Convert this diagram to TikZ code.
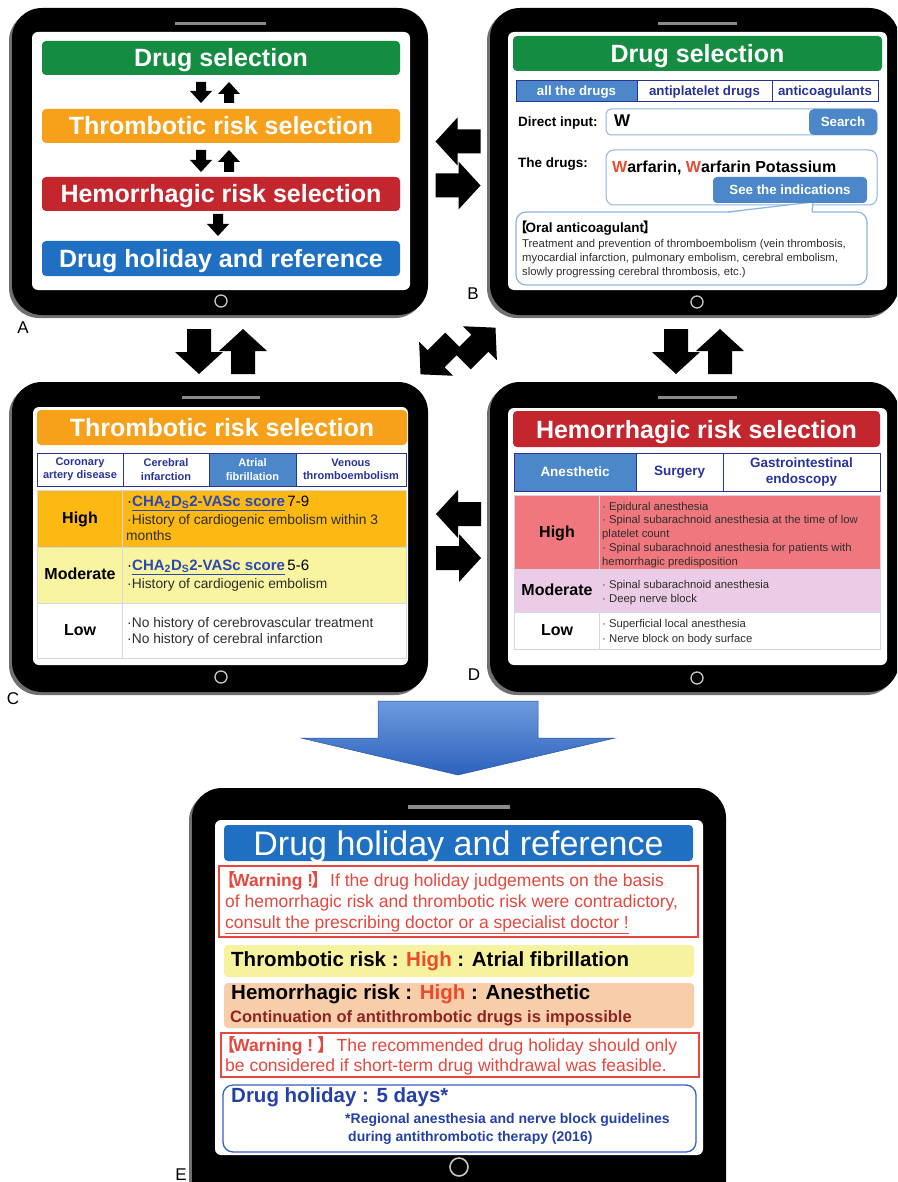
\documentclass[tikz,border=0pt]{standalone}
\usepackage{fontspec}
\setmainfont{Liberation Sans}
\newfontfamily\cjk{Noto Sans CJK JP}
\definecolor{dsgreen}{HTML}{148C41}
\definecolor{trorange}{HTML}{F7A11A}
\definecolor{hmred}{HTML}{C4262E}
\definecolor{dhblue}{HTML}{1F70C2}
\definecolor{tabblue}{HTML}{4C87CA}
\definecolor{navy}{HTML}{28349A}
\definecolor{lightbd}{HTML}{8FB4DE}
\definecolor{chigh}{HTML}{FDB913}
\definecolor{cmod}{HTML}{F8F4A0}
\definecolor{dhigh}{HTML}{EF777D}
\definecolor{dmod}{HTML}{EBCBE5}
\definecolor{warnred}{HTML}{E5483E}
\definecolor{darkred}{HTML}{8E2424}
\definecolor{ethr}{HTML}{F6F29D}
\definecolor{ehem}{HTML}{F7CEA9}
\definecolor{hired}{HTML}{EC4A2C}
\definecolor{scorebl}{HTML}{2A49B5}
\definecolor{txtgray}{HTML}{2E2E2E}
\definecolor{rim}{HTML}{707070}
\definecolor{spk}{HTML}{8A8A8A}
\definecolor{homec}{HTML}{C8C8C8}
\definecolor{rowline}{HTML}{D4D8E6}
\definecolor{edblue}{HTML}{3560C4}
\definecolor{ednavy}{HTML}{2441A6}
\definecolor{arrtop}{HTML}{6E9BDD}
\definecolor{arrbot}{HTML}{2C62BE}

\newcommand\fs[1]{\fontsize{#1}{#1}\selectfont}
\newcommand\lbr{\kern-.45em{\cjk 【}\kern-.15em}
\newcommand\rbr{\kern-.1em{\cjk 】}\kern-.3em}
\newcommand\bl{·}

\newcommand\tabletbody[8]{%
  \fill[rim,rounded corners=30pt] ({#1-3},{#2+3}) rectangle ({#3-3},{#4+3});
  \fill[black,rounded corners=30pt] (#1,#2) rectangle (#3,#4);
  \fill[white,rounded corners=6pt] (#5,#6) rectangle (#7,#8);
}
% cx, ytop, ytip, shaft half width, head half width, head length
\newcommand\downarr[6]{%
  \fill ({#1-#4},{#2}) -- ({#1+#4},{#2}) -- ({#1+#4},{#3-#6}) -- ({#1+#5},{#3-#6})
    -- (#1,#3) -- ({#1-#5},{#3-#6}) -- ({#1-#4},{#3-#6}) -- cycle;}
\newcommand\uparr[6]{%
  \fill ({#1-#4},{#2}) -- ({#1+#4},{#2}) -- ({#1+#4},{#3+#6}) -- ({#1+#5},{#3+#6})
    -- (#1,#3) -- ({#1-#5},{#3+#6}) -- ({#1-#4},{#3+#6}) -- cycle;}
\newcommand\bigpair{%
  \downarr{-22}{-22}{23}{12}{24}{22}
  \uparr{22}{23}{-22}{12}{24}{22}}

\tikzset{
  bar/.style={rectangle, rounded corners=4pt, inner sep=0pt, text=white, font=\fs{25}\bfseries, text height=18pt, text depth=0pt},
  btab/.style={rectangle, draw=navy, line width=0.8pt, minimum height=21pt, inner sep=0pt, font=\fs{13.3}\bfseries, text=navy, text height=9.6pt, text depth=0pt},
  ctab/.style={rectangle, draw=navy, line width=0.8pt, minimum height=33pt, inner sep=0pt, align=center, font=\fontsize{11}{13.5}\selectfont\bfseries, text=navy},
  dtab/.style={rectangle, draw=navy, line width=0.8pt, minimum height=38pt, inner sep=0pt, align=center, font=\fontsize{13.5}{16}\selectfont\bfseries, text=navy},
  rowbox/.style={rectangle, draw=rowline, line width=0.6pt, inner sep=0pt},
  txt/.style={inner sep=0pt, anchor=mid west, yshift=-1.8pt},
  lvl/.style={inner sep=0pt, anchor=mid, font=\fs{16}\bfseries, yshift=-1.8pt},
  lbl/.style={inner sep=0pt, anchor=mid, font=\fs{17}},
  plainbox/.style={rectangle, inner sep=0pt},
  btn/.style={rectangle, inner sep=0pt, fill=tabblue, text=white, font=\fs{13.3}\bfseries, text height=9.6pt, text depth=0pt},
}

\begin{document}
\begin{tikzpicture}[x=1pt,y=-1pt]
\useasboundingbox (0,0) rectangle (897,1182);
\clip (0,0) rectangle (897,1182);
\fill[white] (0,0) rectangle (897,1182);

% ---------- tablet bodies
\tabletbody{12}{8}{428}{315}{32}{32}{410}{290}
\draw[spk,line width=3pt] (175,24) -- (266,24);
\draw[homec,line width=1.3pt] (221,301) circle (6pt);
\tabletbody{490}{8}{899}{315}{508}{32}{887}{290}
\draw[spk,line width=3pt] (658,24) -- (737,24);
\draw[homec,line width=1.3pt] (697,302) circle (6pt);
\tabletbody{12}{382}{428}{692}{33}{407}{408}{665}
\draw[spk,line width=3pt] (182,397) -- (260,397);
\draw[homec,line width=1.3pt] (221,677) circle (6pt);
\tabletbody{490}{382}{899}{692}{508}{408}{887}{665}
\draw[spk,line width=3pt] (658,397) -- (737,397);
\draw[homec,line width=1.3pt] (697,678) circle (6pt);
\tabletbody{192}{788}{726}{1215}{215}{820}{703}{1155}
\draw[spk,line width=3.5pt] (408,807) -- (510,807);
\draw[homec,line width=1.6pt] (459,1167) circle (9pt);

% ---------- A
\node[bar, fill=dsgreen, minimum width=358pt, minimum height=34pt] (aDS) at (221,58) {Drug selection};
\node[bar, fill=trorange, minimum width=358pt, minimum height=34pt] (aTR) at (221,126) {Thrombotic risk selection};
\node[bar, fill=hmred, minimum width=358pt, minimum height=34pt] (aHR) at (221,194) {Hemorrhagic risk selection};
\node[bar, fill=dhblue, minimum width=358pt, minimum height=35pt] (aDH) at (221,258.5) {Drug holiday and reference};
\downarr{201}{82}{103}{5}{11}{12}
\uparr{229}{103}{82}{5}{11}{12}
\downarr{201}{150}{172}{5}{11}{12}
\uparr{229}{172}{150}{5}{11}{12}
\downarr{218}{214}{236}{5}{11}{12}

% ---------- B
\node[bar, fill=dsgreen, minimum width=369pt, minimum height=35pt] (bDS) at (697.5,53.5) {Drug selection};
\node[btab, fill=tabblue, text=white, minimum width=121pt] (bT1) at (576.5,90.5) {all the drugs};
\node[btab, minimum width=135pt] (bT2) at (704.5,90.5) {antiplatelet drugs};
\node[btab, minimum width=106pt] (bT3) at (825,90.5) {anticoagulants};
\node[txt, font=\fs{13.5}\bfseries] (bDI) at (518,122) {Direct input:};
\node[plainbox, draw=lightbd, line width=1pt, rounded corners=5pt, minimum width=271pt, minimum height=26pt] (bIn) at (741.5,122) {};
\node[btn, rounded corners=5pt, minimum width=68pt, minimum height=26pt] (bSe) at (843,122) {Search};
\node[txt, font=\fs{17}\bfseries] (bW) at (614,122) {W};
\node[txt, font=\fs{13.5}\bfseries] (bTD) at (518,163) {The drugs:};
\node[plainbox, draw=lightbd, line width=1pt, rounded corners=8pt, minimum width=271pt, minimum height=55pt] (bDrugs) at (741.5,177.5) {};
\node[txt, font=\fs{16}\bfseries] (bWar) at (612,168) {\textcolor{hired}{W}arfarin, \textcolor{hired}{W}arfarin Potassium};
\node[plainbox, draw=lightbd, line width=1.2pt, rounded corners=10pt, minimum width=351pt, minimum height=73pt] (bCall) at (691.5,248.5) {};
\fill[white] (728,213) -- (813,202) -- (812,213) -- cycle;
\draw[lightbd, line width=1.2pt] (728,212) -- (813,202) -- (812,212);
\node[btn, rounded corners=4pt, minimum width=154pt, minimum height=26pt] (bSee) at (790,190) {See the indications};
\node[txt, font=\fs{13.5}\bfseries] (bOA) at (520,228) {\lbr Oral anticoagulant\rbr};
\node[txt, font=\fs{11.3}, text=txtgray] (bL1) at (522,243) {Treatment and prevention of thromboembolism (vein thrombosis,};
\node[txt, font=\fs{11.3}, text=txtgray] (bL2) at (522,257) {myocardial infarction, pulmonary embolism, cerebral embolism,};
\node[txt, font=\fs{11.3}, text=txtgray] (bL3) at (522,271) {slowly progressing cerebral thrombosis, etc.)};

% ---------- C
\node[bar, fill=trorange, minimum width=370pt, minimum height=35pt] (cTR) at (222,427.5) {Thrombotic risk selection};
\node[ctab, minimum width=86pt] (cT1) at (80,469.5) {Coronary\\artery disease};
\node[ctab, minimum width=86pt] (cT2) at (166,469.5) {Cerebral\\infarction};
\node[ctab, fill=tabblue, text=white, minimum width=87pt] (cT3) at (252.5,469.5) {Atrial\\fibrillation};
\node[ctab, minimum width=110pt] (cT4) at (351,469.5) {Venous\\thromboembolism};
\node[rowbox, fill=chigh, minimum width=369pt, minimum height=57pt] (cHigh) at (221.5,518.5) {};
\node[rowbox, fill=cmod, minimum width=369pt, minimum height=56pt] (cMod) at (221.5,575) {};
\node[rowbox, fill=white, minimum width=369pt, minimum height=55pt] (cLow) at (221.5,630.5) {};
\draw[rowline, line width=0.6pt] (122,490) -- (122,658);
\node[lvl] (cH) at (80,519) {High};
\node[lvl] (cM) at (80,575) {Moderate};
\node[lvl] (cL) at (80,631) {Low};
\node[txt, font=\fs{15}] (cH1) at (127,502) {\bl\textcolor{scorebl}{\bfseries\underline{CHA\textsubscript{2}D\textsubscript{S}2-VASc score}}\,7-9};
\node[txt, font=\fs{13.8}, text=txtgray] (cH2) at (127,520) {\bl History of cardiogenic embolism within 3};
\node[txt, font=\fs{13.8}, text=txtgray] (cH3) at (126,536) {months};
\node[txt, font=\fs{15}] (cM1) at (127,566) {\bl\textcolor{scorebl}{\bfseries\underline{CHA\textsubscript{2}D\textsubscript{S}2-VASc score}}\,5-6};
\node[txt, font=\fs{13.8}, text=txtgray] (cM2) at (127,584) {\bl History of cardiogenic embolism};
\node[txt, font=\fs{13.8}, text=txtgray] (cL1) at (127,623) {\bl No history of cerebrovascular treatment};
\node[txt, font=\fs{13.8}, text=txtgray] (cL2) at (127,639) {\bl No history of cerebral infarction};

% ---------- D
\node[bar, fill=hmred, minimum width=367pt, minimum height=36pt] (dHR) at (696.5,429) {Hemorrhagic risk selection};
\node[dtab, fill=tabblue, text=white, minimum width=122pt] (dT1) at (575,472) {Anesthetic};
\node[dtab, minimum width=87pt] (dT2) at (679.5,472) {Surgery};
\node[dtab, minimum width=157pt] (dT3) at (801.5,472) {Gastrointestinal\\endoscopy};
\node[rowbox, fill=dhigh, minimum width=366pt, minimum height=74pt] (dHigh) at (697,532) {};
\node[rowbox, fill=dmod, minimum width=366pt, minimum height=43pt] (dMod) at (697,590.5) {};
\node[rowbox, fill=white, minimum width=366pt, minimum height=37pt] (dLow) at (697,630.5) {};
\draw[rowline, line width=0.6pt] (599,495) -- (599,649);
\node[lvl] (dH) at (557,533) {High};
\node[lvl] (dM) at (557,591) {Moderate};
\node[lvl] (dL) at (557,631) {Low};
\node[txt, font=\fs{11.3}, text=txtgray] (dH1) at (602,506) {\bl\ Epidural anesthesia};
\node[txt, font=\fs{11.3}, text=txtgray] (dH2) at (602,519.5) {\bl\ Spinal subarachnoid anesthesia at the time of low};
\node[txt, font=\fs{11.3}, text=txtgray] (dH3) at (602,533) {platelet count};
\node[txt, font=\fs{11.3}, text=txtgray] (dH4) at (602,547) {\bl\ Spinal subarachnoid anesthesia for patients with};
\node[txt, font=\fs{11.3}, text=txtgray] (dH5) at (602,561) {hemorrhagic predisposition};
\node[txt, font=\fs{11.3}, text=txtgray] (dM1) at (602,584) {\bl\ Spinal subarachnoid anesthesia};
\node[txt, font=\fs{11.3}, text=txtgray] (dM2) at (602,598) {\bl\ Deep nerve block};
\node[txt, font=\fs{11.3}, text=txtgray] (dL1) at (602,623) {\bl\ Superficial local anesthesia};
\node[txt, font=\fs{11.3}, text=txtgray] (dL2) at (602,638) {\bl\ Nerve block on body surface};

% ---------- E
\node[bar, fill=dhblue, minimum width=469pt, minimum height=36pt, font=\fs{34}, text height=24.5pt] (eDH) at (458.5,843) {Drug holiday and reference};
\node[plainbox, draw=warnred, line width=1.5pt, minimum width=479pt, minimum height=71pt] (eW1) at (458.5,901.5) {};
\node[txt, font=\fs{17.5}, text=warnred] (eW1a) at (226,882) {\textbf{\lbr Warning !\rbr} If the drug holiday judgements on the basis};
\node[txt, font=\fs{17.5}, text=warnred] (eW1b) at (225,903) {of hemorrhagic risk and thrombotic risk were contradictory,};
\node[txt, font=\fs{17.5}, text=warnred] (eW1c) at (225,924) {\underline{consult the prescribing doctor or a specialist doctor !}};
\node[plainbox, fill=ethr, rounded corners=4pt, minimum width=470pt, minimum height=32pt] (eThr) at (459,961) {};
\node[txt, font=\fs{20.5}\bfseries] (eThrT) at (231,962) {Thrombotic risk : \textcolor{hired}{High} : Atrial fibrillation};
\node[plainbox, fill=ehem, rounded corners=4pt, minimum width=470pt, minimum height=45pt] (eHem) at (459,1005.5) {};
\node[txt, font=\fs{20.5}\bfseries] (eHemT) at (231,995) {Hemorrhagic risk : \textcolor{hired}{High} : Anesthetic};
\node[txt, font=\fs{16.5}\bfseries, text=darkred] (eHemC) at (230,1018) {Continuation of antithrombotic drugs is impossible};
\node[plainbox, draw=warnred, line width=1.5pt, minimum width=478pt, minimum height=44pt] (eW2) at (460,1055) {};
\node[txt, font=\fs{17.5}, text=warnred] (eW2a) at (226,1047) {\textbf{\lbr Warning ! \rbr} The recommended drug holiday should only};
\node[txt, font=\fs{17.5}, text=warnred] (eW2b) at (225,1067) {be considered if short-term drug withdrawal was feasible.};
\node[plainbox, draw=edblue, line width=1.3pt, rounded corners=10pt, minimum width=473pt, minimum height=67pt] (eDHbox) at (459.5,1118.5) {};
\node[txt, font=\fs{20.5}\bfseries, text=ednavy] (eDays) at (231,1098) {Drug holiday : 5 days*};
\node[txt, font=\fs{14}\bfseries, text=ednavy] (eRef1) at (345,1119) {*Regional anesthesia and nerve block guidelines};
\node[txt, font=\fs{14}\bfseries, text=ednavy] (eRef2) at (348,1137) {during antithrombotic therapy (2016)};

% ---------- big arrows between tablets
\begin{scope}[shift={(221,351)}] \bigpair \end{scope}
\begin{scope}[shift={(698,351)}] \bigpair \end{scope}
\begin{scope}[shift={(458.5,163.5)}, rotate=-90] \bigpair \end{scope}
\begin{scope}[shift={(459,536)}, rotate=-90] \bigpair \end{scope}
\begin{scope}[shift={(458,351)}, rotate=-45]
  \downarr{-10}{-4}{43}{12}{24}{22}
  \uparr{10}{4}{-43}{12}{24}{22}
\end{scope}

% big blue arrow to E
\shade[top color=arrtop, bottom color=arrbot, draw=arrbot!85!black, line width=0.5pt]
  (378,701) -- (538,701) -- (538,738) -- (615,738) -- (458,775) -- (301,738) -- (378,738) -- cycle;

% ---------- panel letters
\node[lbl] (labA) at (23,331) {A};
\node[lbl] (labB) at (473,297) {B};
\node[lbl] (labC) at (13,702) {C};
\node[lbl] (labD) at (474,678) {D};
\node[lbl] (labE) at (181,1178) {E};
\end{tikzpicture}
\end{document}
